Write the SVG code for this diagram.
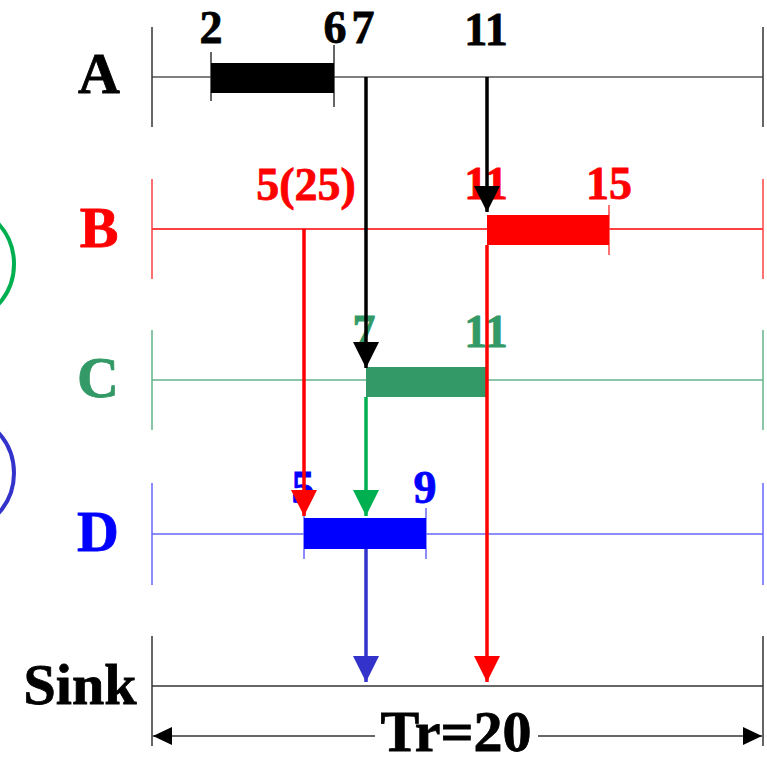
<svg xmlns="http://www.w3.org/2000/svg" width="767" height="757" viewBox="0 0 767 757">
  <style>
    text { font-family: "Liberation Serif", "Times New Roman", serif; font-weight: bold; text-anchor: middle; stroke-width: 0.8; }
    .lbl { font-size: 58px; }
    .num { font-size: 46px; }
    .axis { fill: none; stroke-width: 1.5; }
    .tick { fill: none; stroke-width: 1.5; }
    .arrow { fill: none; stroke-width: 3.5; }
  </style>
  <defs>
    <marker id="hk" markerUnits="userSpaceOnUse" markerWidth="26" markerHeight="26" refX="26" refY="13" orient="auto">
      <path d="M0,0 L26,13 L0,26 Z" fill="#000"/>
    </marker>
    <marker id="hr" markerUnits="userSpaceOnUse" markerWidth="26" markerHeight="26" refX="26" refY="13" orient="auto">
      <path d="M0,0 L26,13 L0,26 Z" fill="#ff0000"/>
    </marker>
    <marker id="hg" markerUnits="userSpaceOnUse" markerWidth="26" markerHeight="26" refX="26" refY="13" orient="auto">
      <path d="M0,0 L26,13 L0,26 Z" fill="#00b050"/>
    </marker>
    <marker id="hb" markerUnits="userSpaceOnUse" markerWidth="26" markerHeight="26" refX="26" refY="13" orient="auto">
      <path d="M0,0 L26,13 L0,26 Z" fill="#3333cc"/>
    </marker>
    <marker id="hs" markerUnits="userSpaceOnUse" markerWidth="20" markerHeight="18" refX="19" refY="9" orient="auto">
      <path d="M0,0 L19,9 L0,18 Z" fill="#000"/>
    </marker>
  </defs>

  <rect width="767" height="757" fill="#fff"/>

  <!-- partial circles at the left margin -->
  <circle cx="-46" cy="264" r="60" fill="none" stroke="#00b050" stroke-width="4"/>
  <circle cx="-46" cy="473" r="60" fill="none" stroke="#3333cc" stroke-width="4"/>

  <!-- row A -->
  <g id="rowA">
    <text class="lbl" x="99" y="93" fill="#000" stroke="#000">A</text>
    <line class="axis" x1="152" y1="77" x2="763" y2="77" stroke="#555"/>
    <line class="tick" x1="152" y1="27" x2="152" y2="127" stroke="#333"/>
    <line class="tick" x1="763" y1="27" x2="763" y2="127" stroke="#333"/>
    <line class="tick" x1="211" y1="52" x2="211" y2="101" stroke="#333"/>
    <line class="tick" x1="334" y1="45" x2="334" y2="107" stroke="#333"/>
    <rect x="211" y="63" width="123" height="30" fill="#000"/>
    <text class="num" x="211" y="43" fill="#000" stroke="#000">2</text>
    <text class="num" x="335" y="43" fill="#000" stroke="#000">6</text>
    <text class="num" x="363" y="43" fill="#000" stroke="#000">7</text>
    <text class="num" x="486" y="45" fill="#000" stroke="#000">11</text>
  </g>

  <!-- row B -->
  <g id="rowB">
    <text class="lbl" x="99" y="247" fill="#ff0000" stroke="#ff0000">B</text>
    <line class="axis" x1="152" y1="229" x2="763" y2="229" stroke="#ff0000" stroke-width="1.2"/>
    <line class="tick" x1="152" y1="179" x2="152" y2="279" stroke="#ff4040"/>
    <line class="tick" x1="763" y1="179" x2="763" y2="279" stroke="#ff4040"/>
    <line class="tick" x1="609" y1="205" x2="609" y2="255" stroke="#ff4040"/>
    <rect x="487" y="215" width="122" height="30" fill="#ff0000"/>
    <text class="num" x="306" y="200" fill="#ff0000" stroke="#ff0000">5(25)</text>
    <text class="num" x="486" y="199" fill="#ff0000" stroke="#ff0000">11</text>
    <text class="num" x="609" y="199" fill="#ff0000" stroke="#ff0000">15</text>
  </g>

  <!-- row C -->
  <g id="rowC">
    <text class="lbl" x="98" y="397" fill="#339966" stroke="#339966">C</text>
    <line class="axis" x1="152" y1="380" x2="763" y2="380" stroke="#66b38c"/>
    <line class="tick" x1="152" y1="330" x2="152" y2="430" stroke="#66b38c"/>
    <line class="tick" x1="763" y1="330" x2="763" y2="430" stroke="#66b38c"/>
    <rect x="366" y="367" width="121" height="30" fill="#339966"/>
    <text class="num" x="364" y="347" fill="#339966" stroke="#339966">7</text>
    <text class="num" x="486" y="347" fill="#339966" stroke="#339966">11</text>
  </g>

  <!-- row D -->
  <g id="rowD">
    <text class="lbl" x="98" y="551" fill="#0000ff" stroke="#0000ff">D</text>
    <line class="axis" x1="152" y1="534" x2="763" y2="534" stroke="#6666ff"/>
    <line class="tick" x1="152" y1="483" x2="152" y2="585" stroke="#6666ff"/>
    <line class="tick" x1="763" y1="483" x2="763" y2="585" stroke="#6666ff"/>
    <line class="tick" x1="304" y1="508" x2="304" y2="559" stroke="#6666ff"/>
    <line class="tick" x1="426" y1="508" x2="426" y2="559" stroke="#6666ff"/>
    <rect x="304" y="518" width="122" height="31" fill="#0000ff"/>
    <text class="num" x="303" y="503" fill="#0000ff" stroke="#0000ff">5</text>
    <text class="num" x="425" y="503" fill="#0000ff" stroke="#0000ff">9</text>
  </g>

  <!-- sink row and period span -->
  <g id="sink">
    <text class="lbl" x="80" y="704" fill="#000" stroke="#000">Sink</text>
    <line class="axis" x1="152" y1="686" x2="763" y2="686" stroke="#333"/>
    <line class="tick" x1="152" y1="636" x2="152" y2="746" stroke="#333"/>
    <line class="tick" x1="763" y1="636" x2="763" y2="746" stroke="#333"/>
    <line x1="375" y1="736" x2="153" y2="736" stroke="#333" stroke-width="1.5" marker-end="url(#hs)"/>
    <line x1="538" y1="736" x2="762" y2="736" stroke="#333" stroke-width="1.5" marker-end="url(#hs)"/>
    <text class="lbl" x="456" y="751" fill="#000" stroke="#000" font-size="57">Tr=20</text>
  </g>

  <!-- message arrows between rows -->
  <g id="connectors">
    <line class="arrow" x1="366" y1="77" x2="366" y2="368" stroke="#000" marker-end="url(#hk)"/>
    <line class="arrow" x1="487" y1="77" x2="487" y2="212" stroke="#000" marker-end="url(#hk)"/>
    <line class="arrow" x1="304" y1="229" x2="304" y2="516" stroke="#ff0000" marker-end="url(#hr)"/>
    <line class="arrow" x1="487" y1="245" x2="487" y2="682" stroke="#ff0000" marker-end="url(#hr)"/>
    <line class="arrow" x1="366" y1="397" x2="366" y2="516" stroke="#00b050" marker-end="url(#hg)"/>
    <line class="arrow" x1="366" y1="549" x2="366" y2="682" stroke="#3333cc" marker-end="url(#hb)"/>
  </g>
</svg>
